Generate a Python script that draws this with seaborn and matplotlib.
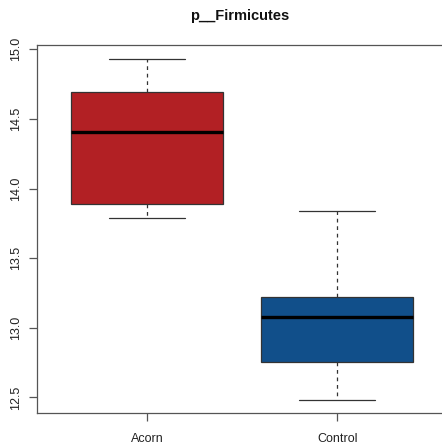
import numpy as np
import pandas as pd
import matplotlib
matplotlib.use("Agg")
import matplotlib.pyplot as plt
import seaborn as sns

# Data (five-number summaries: min, Q1, median, Q3, max)
groups = ["Acorn", "Control"]
acorn_values = [13.79, 13.89, 14.405, 14.69, 14.933]
control_values = [12.484, 12.754, 13.081, 13.224, 13.839]
colors = ["#B22024", "#114F8A"]
title = "p__Firmicutes"
yticks = [12.5, 13.0, 13.5, 14.0, 14.5, 15.0]

df = pd.DataFrame({
    "group": [groups[0]] * len(acorn_values) + [groups[1]] * len(control_values),
    "value": acorn_values + control_values,
})

sns.set_style("white")
plt.rcParams["font.family"] = ["Liberation Sans", "DejaVu Sans"]

W, H = 442, 445
fig = plt.figure(figsize=(W / 100, H / 100), dpi=100)
left, right, top, bottom = 37, 447.6, 45, 413.3
ax = fig.add_axes([left / W, (H - bottom) / H, (right - left) / W, (bottom - top) / H])

edge = "#333333"
sns.boxplot(
    data=df, x="group", y="value", hue="group", palette=colors, legend=False,
    order=groups, width=0.8, whis=(0, 100), linewidth=0.9, linecolor=edge,
    saturation=1, showfliers=False, ax=ax,
    boxprops=dict(edgecolor=edge, linewidth=0.9),
    whiskerprops=dict(color=edge, linestyle=(0, (3, 3)), linewidth=0.9),
    capprops=dict(color=edge, linewidth=0.9),
    medianprops=dict(color="black", linewidth=2.4),
)
# widen caps to R's staple width (0.4 units)
for line in ax.lines:
    xd = line.get_xdata()
    yd = line.get_ydata()
    if len(xd) == 2 and yd[0] == yd[1] and abs(xd[1] - xd[0]) < 0.5 and line.get_linewidth() < 2:
        c = (xd[0] + xd[1]) / 2
        line.set_xdata([c - 0.2, c + 0.2])

allv = np.array(acorn_values + control_values)
rng = allv.max() - allv.min()
ax.set_ylim(allv.min() - 0.04 * rng, allv.max() + 0.04 * rng)
ax.set_xlim(-0.58, 1.58)
ax.set_yticks(yticks)
ax.set_yticklabels([f"{t:.1f}" for t in yticks], rotation=90, va="center")
ax.set_xlabel("")
ax.set_ylabel("")
ax.tick_params(axis="both", which="both", direction="out", length=6, width=0.9,
               color="#555555", labelsize=9, labelcolor="#222222", left=True, bottom=True)
ax.tick_params(axis="y", pad=5)
ax.tick_params(axis="x", pad=8)
for s in ax.spines.values():
    s.set_visible(True)
    s.set_color("#555555")
    s.set_linewidth(0.9)

fig.text(240 / W, 1 - 16 / H, title, ha="center", va="center",
         fontsize=10.5, fontweight="bold", color="#111111")

fig.savefig("out.png", dpi=100)
